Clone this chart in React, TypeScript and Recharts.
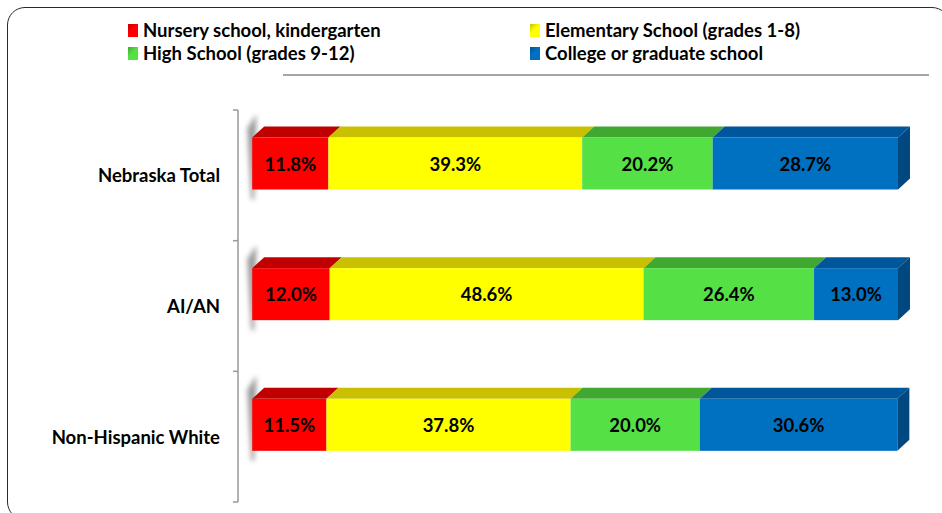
import React from 'react';
import { BarChart, Bar, XAxis, YAxis, Legend, LabelList } from 'recharts';

const categories = ['Nebraska Total', 'AI/AN', 'Non-Hispanic White'];
const nursery = [11.8, 12.0, 11.5];
const elementary = [39.3, 48.6, 37.8];
const highSchool = [20.2, 26.4, 20.0];
const college = [28.7, 13.0, 30.6];

const seriesNames = [
  'Nursery school, kindergarten',
  'Elementary School (grades 1-8)',
  'High School (grades 9-12)',
  'College or graduate school',
];
const seriesKeys = ['nursery', 'elementary', 'highSchool', 'college'];
const frontColors = ['#FF0000', '#FFFF00', '#55E045', '#0070C0'];
const topColors = ['#C00000', '#C8C000', '#40A830', '#00569A'];
const sideColors = ['#A00000', '#A8A000', '#338826', '#00487F'];

const data = categories.map((name, i) => ({
  name,
  nursery: nursery[i],
  elementary: elementary[i],
  highSchool: highSchool[i],
  college: college[i],
}));

const FONT = "Lato, 'Open Sans', 'DejaVu Sans', sans-serif";
const FS = 18.5;
const SHIFT = -11.5;
const DX = 12;
const DY = 11;

const makeShape = (si: number) => (props: any) => {
  const { x, y, width, height, index } = props;
  const fy = y + SHIFT;
  const isFirst = si === 0;
  const isLast = si === seriesKeys.length - 1;
  const fid = `shadow-${si}-${index}`;
  return (
    <g>
      {isFirst && (
        <g>
          <defs>
            <filter id={fid} x="-200%" y="-50%" width="500%" height="200%">
              <feGaussianBlur stdDeviation="2.5" />
            </filter>
          </defs>
          <polygon
            points={`${x - 1},${fy + height + 10} ${x - 5},${fy - DY + 2} ${x + DX - 8},${fy - DY - 12} ${x + 4},${fy - DY}  ${x + 2},${fy + height + 10}`}
            fill="#7a7a7a"
            opacity={0.75}
            filter={`url(#${fid})`}
          />
        </g>
      )}
      <polygon
        points={`${x},${fy} ${x + width},${fy} ${x + width + DX},${fy - DY} ${x + DX},${fy - DY}`}
        fill={topColors[si]}
      />
      <rect x={x} y={fy} width={width} height={height} fill={frontColors[si]} />
      {isLast && (
        <polygon
          points={`${x + width},${fy} ${x + width + DX},${fy - DY} ${x + width + DX},${fy - DY + height} ${x + width},${fy + height}`}
          fill={sideColors[si]}
        />
      )}
    </g>
  );
};

const renderValueLabel = (props: any) => {
  const { x, y, width, height, value } = props;
  return (
    <text
      x={x + width / 2}
      y={y + SHIFT + height / 2}
      textAnchor="middle"
      dominantBaseline="central"
      fontFamily={FONT}
      fontWeight={700}
      fontSize={FS}
      fill="#000"
    >
      {`${Number(value).toFixed(1)}%`}
    </text>
  );
};

const CategoryTick = (props: any) => {
  const { x, y, payload, index, visibleTicksCount } = props;
  const half = payload && payload.offset ? payload.offset : 0;
  const isLastTick = index === (visibleTicksCount || categories.length) - 1;
  return (
    <g>
      <line x1={x - 5} x2={x} y1={y - half} y2={y - half} stroke="#999" strokeWidth={1.5} />
      {isLastTick && (
        <line x1={x - 5} x2={x} y1={y + half} y2={y + half} stroke="#999" strokeWidth={1.5} />
      )}
      <text
        x={x - 18}
        y={y}
        textAnchor="end"
        dominantBaseline="central"
        fontFamily={FONT}
        fontWeight={700}
        fontSize={FS}
        fill="#000"
      >
        {payload.value}
      </text>
    </g>
  );
};

const legendPos = [
  { left: 128, top: 30 },
  { left: 530, top: 30 },
  { left: 128, top: 53 },
  { left: 530, top: 53 },
];

const renderLegend = (props: any) => {
  const payload = props.payload || [];
  return (
    <div style={{ position: 'relative', width: 942, height: 90, fontFamily: FONT }}>
      {payload.map((item: any, i: number) => {
        const si = seriesNames.indexOf(item.value);
        const k = si >= 0 ? si : i;
        const pos = legendPos[k];
        const c = frontColors[k];
        const t = topColors[k];
        return (
          <div
            key={item.value}
            style={{
              position: 'absolute',
              left: pos.left,
              top: pos.top - 12,
              height: 24,
              display: 'flex',
              alignItems: 'center',
              whiteSpace: 'nowrap',
            }}
          >
            <span
              style={{
                display: 'inline-block',
                width: 10,
                height: 13,
                background: `linear-gradient(135deg, ${t} 0%, ${c} 45%, ${c} 100%)`,
                marginRight: 5,
              }}
            />
            <span style={{ fontWeight: 700, fontSize: FS, color: '#000' }}>{item.value}</span>
          </div>
        );
      })}
      <div
        style={{
          position: 'absolute',
          left: 283,
          top: 74,
          width: 646,
          height: 0,
          borderTop: '2px solid #A6A6A6',
        }}
      />
    </div>
  );
};

export default function App() {
  return (
    <div
      style={{
        position: 'absolute',
        left: 0,
        top: 0,
        width: 942,
        height: 513,
        overflow: 'hidden',
        background: '#fff',
      }}
    >
      <div
        style={{
          position: 'absolute',
          left: 7,
          top: 7,
          width: 943,
          height: 513,
          border: '1.5px solid #2a2a2a',
          borderRadius: 18,
          boxSizing: 'border-box',
        }}
      />
      <BarChart
        width={942}
        height={513}
        data={data}
        layout="vertical"
        margin={{ top: 110, right: 44, bottom: 11, left: 0 }}
      >
        <XAxis type="number" domain={[-2.2, 100]} hide />
        <YAxis
          type="category"
          dataKey="name"
          width={238}
          tickLine={false}
          tickSize={0}
          tickMargin={0}
          interval={0}
          axisLine={{ stroke: '#999', strokeWidth: 1.5 }}
          tick={<CategoryTick />}
        />
        <Legend
          layout="horizontal"
          verticalAlign="middle"
          align="center"
          wrapperStyle={{ top: 0, left: 0, width: 942, height: 90 }}
          content={renderLegend}
        />
        {seriesKeys.map((k, si) => (
          <Bar
            key={k}
            dataKey={k}
            name={seriesNames[si]}
            stackId="a"
            fill={frontColors[si]}
            barSize={52}
            shape={makeShape(si)}
            isAnimationActive={false}
          >
            <LabelList dataKey={k} content={renderValueLabel} />
          </Bar>
        ))}
      </BarChart>
    </div>
  );
}
